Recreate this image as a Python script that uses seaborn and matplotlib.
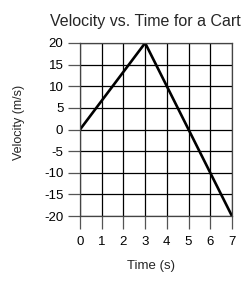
import pandas as pd
import seaborn as sns
import matplotlib.pyplot as plt

# Data
time_s = [0, 3, 7]
velocity = [0, 20, -20]
x_ticks = [0, 1, 2, 3, 4, 5, 6, 7]
y_ticks = [-20, -15, -10, -5, 0, 5, 10, 15, 20]

df = pd.DataFrame({'Time': time_s, 'Velocity': velocity})

sns.set_style('white')
plt.rcParams['font.family'] = ['Liberation Sans', 'DejaVu Sans']
plt.rcParams['axes.unicode_minus'] = False

fig = plt.figure(figsize=(2.5, 2.81), dpi=100)
ax = fig.add_axes([0.32, 0.231, 0.608, 0.616])

sns.lineplot(data=df, x='Time', y='Velocity', color='black', linewidth=1.9, ax=ax)

ax.set_xlim(0, 7)
ax.set_ylim(-20, 20)
ax.set_xticks(x_ticks)
ax.set_yticks(y_ticks)
ax.tick_params(axis='both', bottom=True, left=True, direction='out', length=9,
               width=0.9, color='#555555', labelsize=9.5, labelcolor='black')
ax.tick_params(axis='x', pad=5)
ax.tick_params(axis='y', pad=3)
ax.grid(True, color='black', linewidth=0.9)
for s in ax.spines.values():
    s.set_color('#444444')
    s.set_linewidth(0.9)

fig.text(0.58, 0.922, 'Velocity vs. Time for a Cart', fontsize=11.5,
         ha='center', va='center')
ax.set_xlabel('Time (s)', fontsize=9.5)
ax.set_ylabel('Velocity (m/s)', fontsize=9)
ax.xaxis.set_label_coords(0.467, -0.254)
ax.yaxis.set_label_coords(-0.36, 0.54)

fig.savefig('out.png', dpi=100)
